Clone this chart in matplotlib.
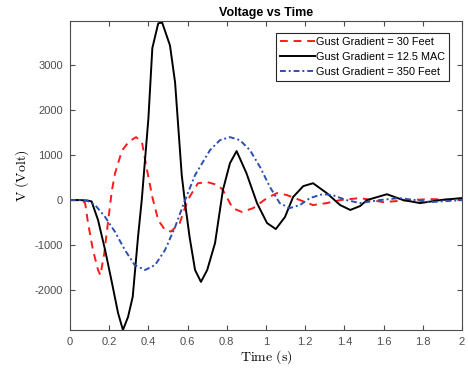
import matplotlib
matplotlib.use("Agg")
import matplotlib.pyplot as plt

plt.rcParams['font.family'] = ['Liberation Sans', 'DejaVu Sans']
plt.rcParams['mathtext.fontset'] = 'cm'
plt.rcParams['axes.unicode_minus'] = False

# Gust Gradient = 30 Feet
t_red = [0, 0.06, 0.077, 0.092, 0.117, 0.143, 0.155, 0.175, 0.195, 0.214, 0.23,
         0.265, 0.30, 0.337, 0.367, 0.39, 0.42, 0.45, 0.485, 0.515, 0.56, 0.60,
         0.653, 0.70, 0.755, 0.78, 0.83, 0.877, 0.934, 1.005, 1.056, 1.107,
         1.173, 1.24, 1.31, 1.378, 1.48, 1.597, 1.735, 1.837, 2.0]
v_red = [0, 0, -67, -510, -1110, -1555, -1670, -1180, -445, 222, 600,
         1100, 1300, 1400, 1290, 733, 67, -445, -667, -700, -510, 0,
         375, 400, 333, 222, -180, -265, -180, 45, 155, 111,
         0, -111, -67, 0, 45, -45, 0, 22, 0]

# Gust Gradient = 12.5 MAC
t_black = [0, 0.05, 0.09, 0.11, 0.143, 0.179, 0.214, 0.245, 0.27, 0.296, 0.32,
           0.347, 0.366, 0.40, 0.42, 0.45, 0.47, 0.51, 0.536, 0.57, 0.587, 0.61,
           0.638, 0.668, 0.70, 0.74, 0.78, 0.816, 0.85, 0.90, 0.954, 1.005,
           1.05, 1.097, 1.138, 1.19, 1.24, 1.31, 1.378, 1.43, 1.48, 1.515,
           1.617, 1.70, 1.786, 1.89, 2.0]
v_black = [0, 0, -10, -30, -444, -1110, -1840, -2510, -2890, -2600, -2150,
           -820, 0, 1820, 3380, 3930, 3950, 3440, 2620, 555, -67, -820,
           -1555, -1820, -1555, -955, 222, 820, 1090, 600, -67, -510,
           -645, -375, 67, 310, 375, 155, -110, -220, -133, 0,
           130, 0, -67, 0, 45]

# Gust Gradient = 350 Feet
t_blue = [0, 0.06, 0.09, 0.128, 0.179, 0.23, 0.28, 0.33, 0.383, 0.434, 0.485,
          0.536, 0.587, 0.638, 0.714, 0.765, 0.816, 0.867, 0.918, 0.97, 1.02,
          1.07, 1.12, 1.173, 1.224, 1.29, 1.34, 1.41, 1.48, 1.58, 1.68, 1.84, 2.0]
v_blue = [0, 0, -20, -111, -375, -710, -1110, -1445, -1555, -1445, -1110,
          -600, 0, 555, 1110, 1333, 1400, 1333, 1110, 733, 290,
          -67, -180, -111, 45, 133, 111, 0, -67, 0, 45, -45, 0]

labels = ['Gust Gradient = 30 Feet', 'Gust Gradient = 12.5 MAC',
          'Gust Gradient = 350 Feet']

fig = plt.figure(figsize=(4.68, 3.71), dpi=100)
ax = fig.add_axes([0.1496, 0.1105, 0.8376, 0.8325])

ax.plot(t_red, v_red, '--', color='#ff1a1a', lw=1.4, dashes=(4, 3), label=labels[0])
ax.plot(t_black, v_black, '-', color='black', lw=1.4, label=labels[1])
ax.plot(t_blue, v_blue, '-.', color='#2d4fb0', lw=1.4, dashes=(3, 1.5, 1, 1.5), label=labels[2])

ax.set_xlim(0, 2)
ax.set_ylim(-2890, 3980)
ax.set_xticks([0, 0.2, 0.4, 0.6, 0.8, 1, 1.2, 1.4, 1.6, 1.8, 2])
ax.set_xticklabels(['0', '0.2', '0.4', '0.6', '0.8', '1', '1.2', '1.4', '1.6', '1.8', '2'])
ax.set_yticks([-2000, -1000, 0, 1000, 2000, 3000])

grey = '#4d4d4d'
for s in ax.spines.values():
    s.set_color(grey)
    s.set_linewidth(0.8)
ax.tick_params(direction='in', top=True, right=True, length=3.5, width=0.8,
               colors=grey, labelsize=8, labelcolor=grey, pad=5)

ax.set_title('Voltage vs Time', fontsize=9, fontweight='bold', pad=4)
ax.set_xlabel(r'$\mathrm{Time\ (s)}$', fontsize=10, labelpad=1)
ax.set_ylabel(r'$\mathrm{V\ (Volt)}$', fontsize=10, labelpad=3)

leg = ax.legend(loc='upper right', bbox_to_anchor=(0.967, 0.961), fontsize=7.8,
                frameon=True, fancybox=False, edgecolor='#262626', framealpha=1,
                handlelength=3.2, handletextpad=0.15, borderpad=0.35,
                labelspacing=0.45, borderaxespad=0)
leg.get_frame().set_linewidth(0.8)

fig.savefig('out.png', dpi=100)
